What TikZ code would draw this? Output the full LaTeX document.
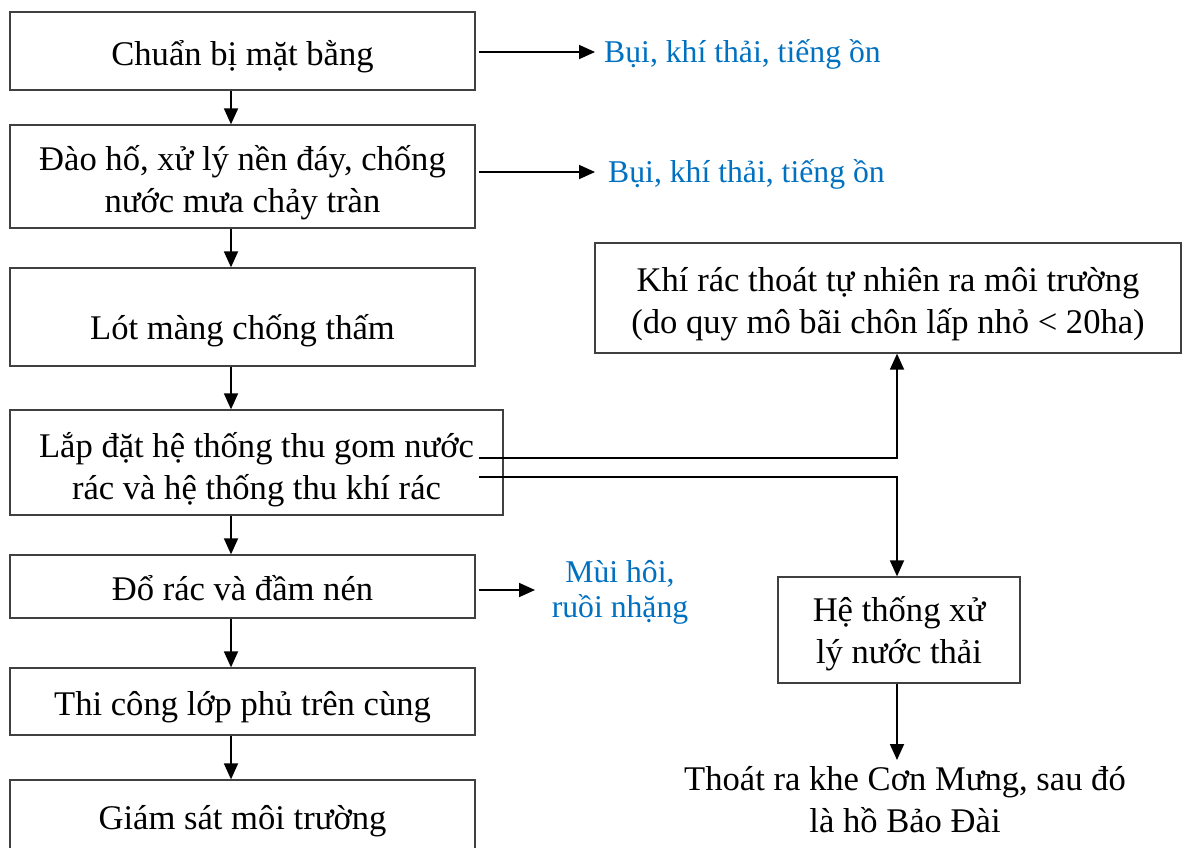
\documentclass[tikz,border=0pt]{standalone}
\usepackage{fontspec}
\setmainfont{Liberation Serif}
\usetikzlibrary{arrows.meta}
\definecolor{wordblue}{RGB}{0,112,192}
\newcommand{\dn}[2][6pt]{\raisebox{-#1}[\height][\depth]{\begin{tabular}{@{}c@{}}#2\end{tabular}}}
\tikzset{
  box/.style={draw=black!75, line width=1.3pt, rectangle, align=center, inner sep=0pt,
    font=\fontsize{34.6}{42}\selectfont},
  lbl/.style={inner sep=0pt, align=center, font=\fontsize{34.6}{42}\selectfont},
  blue/.style={inner sep=0pt, align=center, text=wordblue, font=\fontsize{31.7}{40}\selectfont},
  arr/.style={line width=1.8pt, -{Triangle[length=16pt,width=14pt]}}
}
\begin{document}
\begin{tikzpicture}[x=1pt,y=-1pt]
\useasboundingbox (0,0) rectangle (1182,847);
% left column
\node[box, minimum width=465pt, minimum height=78pt] (b1) at (242.5,51) {\dn{Chuẩn bị mặt bằng}};
\node[box, minimum width=465pt, minimum height=103pt] (b2) at (242.5,176.5) {\dn[7pt]{Đào hố, xử lý nền đáy, chống\\nước mưa chảy tràn}};
\node[box, minimum width=465pt, minimum height=98pt] (b3) at (242.5,317) {\dn[14pt]{Lót màng chống thấm}};
\node[box, minimum width=493pt, minimum height=105pt] (b4) at (256.5,462.5) {\dn[8pt]{Lắp đặt hệ thống thu gom nước\\rác và hệ thống thu khí rác}};
\node[box, minimum width=465pt, minimum height=63pt] (b5) at (242.5,586.5) {\dn{Đổ rác và đầm nén}};
\node[box, minimum width=465pt, minimum height=67pt] (b6) at (242.5,701.5) {\dn{Thi công lớp phủ trên cùng}};
\node[box, minimum width=465pt, minimum height=71pt] (b7) at (242.5,815.5) {\dn{Giám sát môi trường}};
% right side
\node[box, minimum width=586pt, minimum height=110pt] (kr) at (888,298) {\dn{Khí rác thoát tự nhiên ra môi trường\\(do quy mô bãi chôn lấp nhỏ < 20ha)}};
\node[box, minimum width=242pt, minimum height=106pt] (ht) at (899,630) {\dn[4pt]{Hệ thống xử\\lý nước thải}};
\node[lbl, anchor=north] (out) at (905,766) {Thoát ra khe Cơn Mưng, sau đó\\là hồ Bảo Đài};
% blue outputs
\node[blue, anchor=west] (t1) at (604,54) {Bụi, khí thải, tiếng ồn};
\node[blue, anchor=west] (t2) at (608,174) {Bụi, khí thải, tiếng ồn};
\node[blue, font=\fontsize{31.7}{35}\selectfont] (t3) at (620,592) {Mùi hôi,\\ruồi nhặng};
% helper coordinates
\coordinate (ax) at (231,0);
\coordinate (vx) at (897,0);
\coordinate (l1) at (479,458);
\coordinate (l2) at (479,477);
\coordinate (e5) at (535,590);
\coordinate (y1) at (0,52);
\coordinate (y2) at (0,172);
% vertical flow
\draw[arr] (b1.south -| ax) -- (b2.north -| ax);
\draw[arr] (b2.south -| ax) -- (b3.north -| ax);
\draw[arr] (b3.south -| ax) -- (b4.north -| ax);
\draw[arr] (b4.south -| ax) -- (b5.north -| ax);
\draw[arr] (b5.south -| ax) -- (b6.north -| ax);
\draw[arr] (b6.south -| ax) -- (b7.north -| ax);
% side arrows
\draw[arr] ([xshift=3pt]b1.east |- y1) -- ([xshift=-9pt]t1.west |- y1);
\draw[arr] ([xshift=3pt]b2.east |- y2) -- ([xshift=-13pt]t2.west |- y2);
\draw[arr] (b5.east |- e5) ++(3,0) -- (e5);
\draw[arr] (l1) -| (vx |- kr.south);
\draw[arr] (l2) -| (vx |- ht.north);
\draw[arr] (ht.south -| vx) -- ([yshift=6pt]out.north -| vx);
\end{tikzpicture}
\end{document}
